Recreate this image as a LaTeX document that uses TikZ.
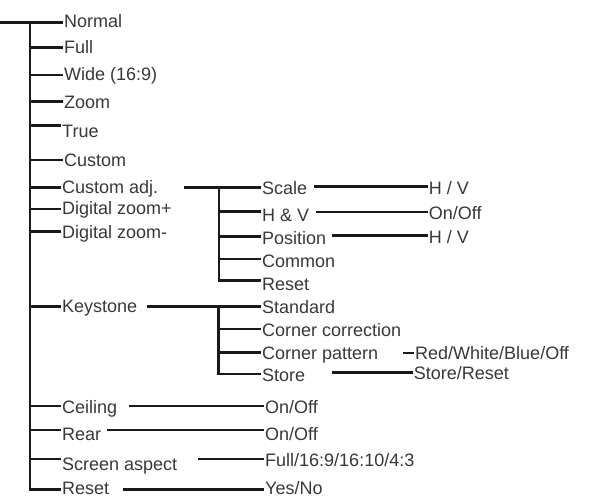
\documentclass[tikz,border=0pt]{standalone}
\usepackage{fontspec}
\setmainfont{Liberation Sans}
\begin{document}
\begin{tikzpicture}[x=1pt,y=-1pt,
  lbl/.style={anchor=west, inner xsep=2pt, inner ysep=0pt, text height=12.9pt, text depth=0pt,
    font=\fontsize{18}{18}\selectfont, text=black!78},
  conn/.style={line width=2.8pt, draw=black!90, line cap=rect}]
\useasboundingbox (0,0) rectangle (596,498);
% level 1 labels
\node[lbl] (normal) at (62,21) {Normal};
\node[lbl] (full) at (62,46.7) {Full};
\node[lbl] (wide) at (62,73.7) {Wide (16:9)};
\node[lbl] (zoom) at (62,101.7) {Zoom};
\node[lbl] (true) at (60,131) {True};
\node[lbl] (custom) at (62,159.7) {Custom};
\node[lbl] (custadj) at (60,186.7) {Custom adj.};
\node[lbl] (dzp) at (60,208.3) {Digital zoom+};
\node[lbl] (dzm) at (60,232) {Digital zoom-};
\node[lbl] (keystone) at (60,306) {Keystone};
\node[lbl] (ceiling) at (60,407.3) {Ceiling};
\node[lbl] (rear) at (60,434) {Rear};
\node[lbl] (scrasp) at (60,463.7) {Screen aspect};
\node[lbl] (reset) at (60,488.3) {Reset};
% level 2 labels
\node[lbl] (scale) at (260,187.7) {Scale};
\node[lbl] (hv) at (260,215) {H \& V};
\node[lbl] (position) at (260,238.3) {Position};
\node[lbl] (common) at (260,260.8) {Common};
\node[lbl] (creset) at (260,284) {Reset};
\node[lbl] (standard) at (260,306.7) {Standard};
\node[lbl] (corncorr) at (260,330) {Corner correction};
\node[lbl] (cornpat) at (260,353.3) {Corner pattern};
\node[lbl] (store) at (260,375) {Store};
\node[lbl] (ceilval) at (263,407.3) {On/Off};
\node[lbl] (rearval) at (263,434) {On/Off};
\node[lbl] (aspval) at (263,460) {Full/16:9/16:10/4:3};
\node[lbl] (resetval) at (263,488.3) {Yes/No};
% level 3 labels
\node[lbl] (scaleval) at (426.7,188.3) {H / V};
\node[lbl] (hvval) at (426.7,213.3) {On/Off};
\node[lbl] (posval) at (426.7,236.7) {H / V};
\node[lbl] (patval) at (413,353.3) {Red/White/Blue/Off};
\node[lbl] (storeval) at (411.7,373.3) {Store/Reset};
% main trunk
\coordinate (root) at (0,22.7);
\coordinate (ttop) at (30,22.7);
\coordinate (tbot) at (30,489.5);
\draw[conn] (root) -- (normal.west |- root);
\draw[conn] (ttop) -- (tbot);
\draw[conn] (30,47.7) -- (full.west |- 0,47.7);
\draw[conn] (30,75) -- (wide.west |- 0,75);
\draw[conn] (30,101.7) -- (zoom.west |- 0,101.7);
\draw[conn] (30,125.3) -- (true.west |- 0,125.3);
\draw[conn] (30,160) -- (custom.west |- 0,160);
\draw[conn] (30,187.7) -- (custadj.west |- 0,187.7);
\draw[conn] (30,209) -- (dzp.west |- 0,209);
\draw[conn] (30,231.7) -- (dzm.west |- 0,231.7);
\draw[conn] (30,306.7) -- (keystone.west |- 0,306.7);
\draw[conn] (30,406) -- (ceiling.west |- 0,406);
\draw[conn] (30,430) -- (rear.west |- 0,430);
\draw[conn] (30,459) -- (scrasp.west |- 0,459);
\draw[conn] (tbot) -- (reset.west |- tbot);
% custom adj subtree
\coordinate (castart) at (185,187.7);
\draw[conn] (castart) -- (scale.west |- castart);
\draw[conn] (219,187.7) -- (219,280.7);
\draw[conn] (219,211.7) -- (hv.west |- 0,211.7);
\draw[conn] (219,236.7) -- (position.west |- 0,236.7);
\draw[conn] (219,259) -- (common.west |- 0,259);
\draw[conn] (219,280.7) -- (creset.west |- 0,280.7);
\draw[conn] (315.7,186.5) -- (scaleval.west |- 0,186.5);
\draw[conn] (317.7,212) -- (hvval.west |- 0,212);
\draw[conn] (333,235.7) -- (posval.west |- 0,235.7);
% keystone subtree
\coordinate (kstart) at (148,306.7);
\draw[conn] (kstart) -- (standard.west |- kstart);
\draw[conn] (218.5,306.7) -- (218.5,374);
\draw[conn] (218.5,329) -- (corncorr.west |- 0,329);
\draw[conn] (218.5,352.7) -- (cornpat.west |- 0,352.7);
\draw[conn] (218.5,374) -- (store.west |- 0,374);
\draw[conn] (404,353) -- (patval.west |- 0,353);
\draw[conn] (333,372.7) -- (storeval.west |- 0,372.7);
% bottom items
\draw[conn] (130,406) -- (ceilval.west |- 0,406);
\draw[conn] (108,430) -- (rearval.west |- 0,430);
\draw[conn] (199,459) -- (aspval.west |- 0,459);
\draw[conn] (124,489.5) -- (resetval.west |- 0,489.5);
\end{tikzpicture}
\end{document}
